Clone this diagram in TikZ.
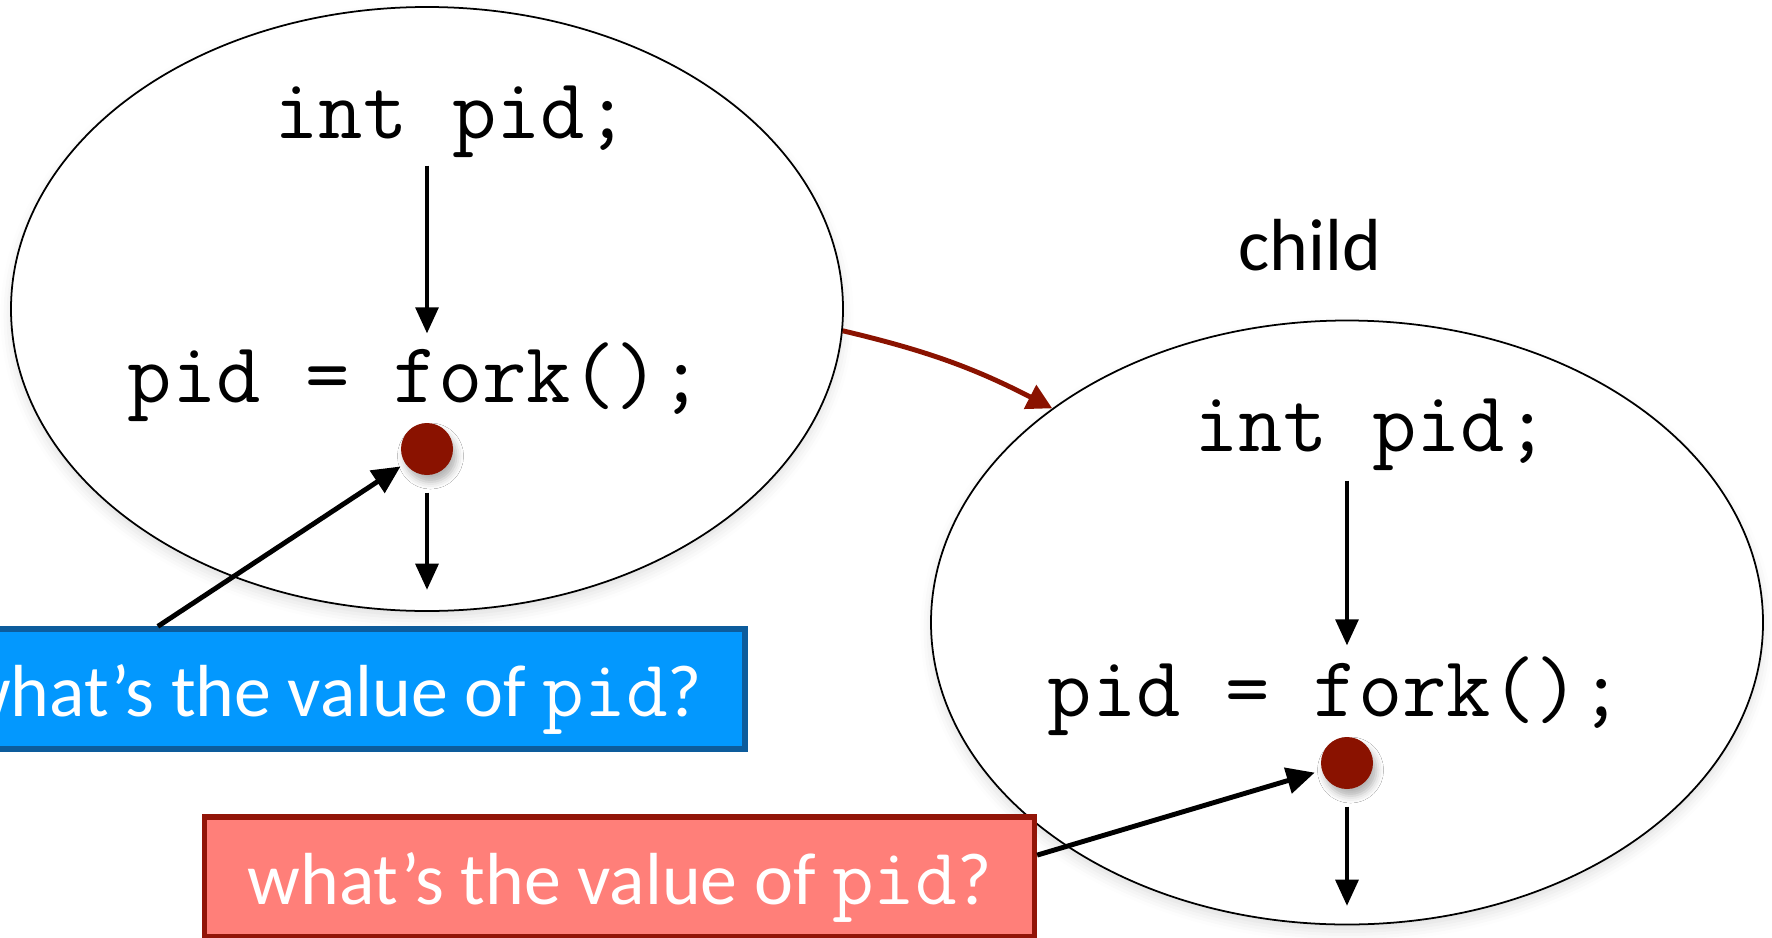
\documentclass[tikz,border=0pt]{standalone}
\usepackage{fontspec}
\setmainfont{Carlito}
\usetikzlibrary{arrows.meta}
\usetikzlibrary{shapes.geometric}
\usetikzlibrary{shadows.blur}
\definecolor{forkred}{HTML}{8A1200}
\definecolor{askblue}{HTML}{0398FE}
\definecolor{askblueedge}{HTML}{0D5C9C}
\definecolor{askred}{HTML}{FF7F79}
\definecolor{askrededge}{HTML}{921508}
\newcommand{\qvar}[1]{{\ttfamily\fontsize{23}{25}\selectfont #1}}
\tikzset{
  proc/.style={draw, ellipse, line width=0.5pt, fill=white,
      minimum width=8.32cm, minimum height=6.04cm,
      blur shadow={shadow xshift=0pt, shadow yshift=-2pt,
        shadow blur radius=3pt, shadow opacity=12}},
  code/.style={font=\ttfamily\fontsize{24.5}{28}\selectfont, inner sep=0pt,
      text height=0.5cm, text depth=0.15cm, anchor=base},
  point/.style={circle, fill=forkred, minimum size=0.52cm, inner sep=0pt,
      blur shadow={shadow xshift=1pt, shadow yshift=-2pt,
        shadow blur radius=2pt, shadow opacity=30}},
  flow/.style={-{Triangle[length=0.26cm,width=0.23cm]}, line width=0.9pt},
  spawn/.style={-{Triangle[length=0.25cm,width=0.26cm]}, draw=forkred, line width=1.4pt},
  ask/.style={-{Triangle[length=0.28cm,width=0.26cm]}, line width=1.4pt},
  question/.style={draw, line width=1.5pt, text=white, inner sep=0pt,
      minimum width=8.3cm, minimum height=1.2cm,
      text height=0.75cm, text depth=0.21cm, font=\fontsize{21}{25}\selectfont},
}
\begin{document}
\begin{tikzpicture}
  \clip (0,0) rectangle (17.72,9.37);

  % parent
  \node[proc] (procL) at (4.27,6.28) {};
  \node[code] (intL) at (4.52,7.99) {int pid;};
  \node[code] (forkL) at (4.16,5.35) {pid = fork();};
  \node[point] (dotL) at (4.27,4.88) {};
  \draw[flow, shorten <=0.12cm, shorten >=0.18cm] (intL.south -| dotL) -- (forkL.north -| dotL);
  \draw[flow, shorten <=0.17cm] (dotL.south) -- ++(0,-1.14);

  % child
  \node (childlbl) [anchor=base, font=\fontsize{21}{25}\selectfont] at (13.10,6.67) {child};
  \node[proc] (procC) at (13.47,3.145) {};
  \node[code] (intC) at (13.72,4.86) {int pid;};
  \node[code] (forkC) at (13.36,2.21) {pid = fork();};
  \node[point] (dotC) at (13.47,1.74) {};
  \draw[flow, shorten <=0.14cm, shorten >=0.20cm] (intC.south -| dotC) -- (forkC.north -| dotC);
  \draw[flow, shorten <=0.17cm] (dotC.south) -- ++(0,-1.16);

  \draw[spawn] (procL.-3) to[bend left=7] (procC.144);

  % questions
  \node[question, fill=askblue, draw=askblueedge] (blueQ) at (3.30,2.48)
    {what’s the value of \qvar{pid}?};
  \node[question, fill=askred, draw=askrededge] (redQ) at (6.195,0.60)
    {what’s the value of \qvar{pid}?};
  \draw[ask, shorten >=0.05cm] (blueQ.160) -- (dotL);
  \draw[ask, shorten >=0.07cm] (redQ.3) -- (dotC);
\end{tikzpicture}
\end{document}
